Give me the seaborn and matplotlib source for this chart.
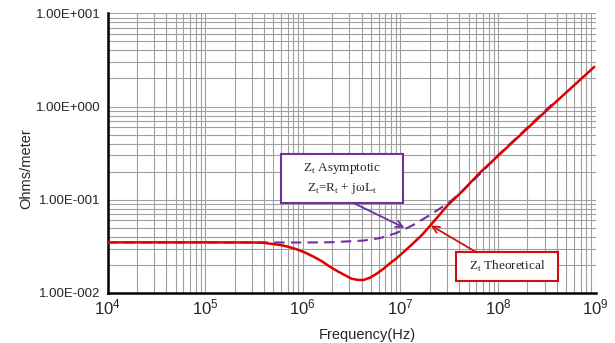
import numpy as np
import pandas as pd
import matplotlib
matplotlib.use("Agg")
import matplotlib.pyplot as plt
from matplotlib.patches import Rectangle
from matplotlib.ticker import LogLocator, FixedLocator, FixedFormatter
import seaborn as sns

# values (frequency in Hz, impedance in ohms/meter)
freq_theo = [1e4, 1e5, 3.16e5, 3.9e5, 5.9e5, 7.1e5, 8.7e5, 1.06e6, 1.29e6, 1.57e6,
             1.9e6, 2.32e6, 2.8e6, 3.18e6, 3.7e6, 4.2e6, 4.9e6, 5.7e6, 6.8e6, 7.8e6,
             9.1e6, 1.07e7, 1.35e7, 1.66e7, 2.01e7, 2.45e7, 3.0e7, 4.09e7, 6.55e7, 1e8,
             3.16e8, 9.66e8]
z_theo = [0.0349, 0.0349, 0.0348, 0.0346, 0.0327, 0.0313, 0.0294, 0.0271, 0.0245, 0.0219,
          0.0191, 0.0169, 0.0152, 0.0142, 0.0138, 0.0138, 0.0146, 0.0161, 0.0184, 0.0208,
          0.0235, 0.0273, 0.0341, 0.0419, 0.0525, 0.0668, 0.0860, 0.117, 0.196, 0.296,
          0.914, 2.66]

freq_asym = [1e4, 1e5, 1e6, 1.9e6, 4.2e6, 6.2e6, 9.1e6, 1.12e7, 1.35e7, 2.01e7, 3.23e7,
             4.42e7, 6.55e7, 1e8, 3.56e8]
z_asym = [0.0349, 0.0349, 0.0348, 0.0350, 0.0365, 0.0388, 0.0440, 0.0487, 0.0536, 0.0686,
          0.0953, 0.127, 0.190, 0.30, 1.053]

ytick_vals = [1e-2, 1e-1, 1e0, 1e1]
ytick_labels = ["1.00E-002", "1.00E-001", "1.00E+000", "1.00E+001"]
xtick_vals = [1e4, 1e5, 1e6, 1e7, 1e8, 1e9]
xtick_labels = [r"$10^{4}$", r"$10^{5}$", r"$10^{6}$", r"$10^{7}$", r"$10^{8}$", r"$10^{9}$"]

df_theo = pd.DataFrame({"f": freq_theo, "z": z_theo})
df_asym = pd.DataFrame({"f": freq_asym, "z": z_asym})

sns.set_style("white")
plt.rcParams["font.family"] = ["Liberation Sans", "DejaVu Sans"]
plt.rcParams["mathtext.fontset"] = "custom"
plt.rcParams["mathtext.rm"] = "Liberation Sans"
plt.rcParams["mathtext.it"] = "Liberation Sans"

fig = plt.figure(figsize=(6.15, 3.43), dpi=100)
ax = fig.add_axes([0.1748, 0.1458, 0.9686 - 0.1748, 0.9612 - 0.1458])

ax.set_xscale("log")
ax.set_yscale("log")

sns.lineplot(data=df_asym, x="f", y="z", ax=ax, color="#7030A0", lw=1.5,
             dashes=False, linestyle=(0, (5, 3)), zorder=3)
sns.lineplot(data=df_theo, x="f", y="z", ax=ax, color="#E00000", lw=1.8, zorder=4)

ax.set_xlim(1e4, 1e9)
ax.set_ylim(1e-2, 1e1)

ax.xaxis.set_major_locator(FixedLocator(xtick_vals))
ax.xaxis.set_major_formatter(FixedFormatter(xtick_labels))
ax.yaxis.set_major_locator(FixedLocator(ytick_vals))
ax.yaxis.set_major_formatter(FixedFormatter(ytick_labels))
ax.xaxis.set_minor_locator(LogLocator(base=10, subs=np.arange(2, 10), numticks=20))
ax.yaxis.set_minor_locator(LogLocator(base=10, subs=np.arange(2, 10), numticks=20))
ax.xaxis.set_minor_formatter(plt.NullFormatter())
ax.yaxis.set_minor_formatter(plt.NullFormatter())

ax.grid(True, which="both", color="#a0a0a0", lw=0.8)
ax.set_axisbelow(True)
ax.tick_params(which="both", length=0)
ax.tick_params(axis="x", labelsize=12, pad=3)
ax.tick_params(axis="y", labelsize=9.5, pad=5)

for s in ["top", "right"]:
    ax.spines[s].set_visible(False)
for s in ["left", "bottom"]:
    ax.spines[s].set_color("black")
    ax.spines[s].set_linewidth(1.8)

ax.set_xlabel("Frequency(Hz)", fontsize=10.5)
ax.set_ylabel("Ohms/meter", fontsize=10.5)
ax.xaxis.set_label_coords(0.5315, -0.124)
ax.yaxis.set_label_coords(-0.153, 0.446)

serif = ["Liberation Serif", "DejaVu Serif"]

# annotation boxes (axes fraction)
ax.add_patch(Rectangle((0.3548, 0.3225), 0.2499, 0.174, transform=ax.transAxes,
                       fc="white", ec="#7030A0", lw=1.5, zorder=5))
ax.text(0.3548 + 0.2499 / 2, 0.3225 + 0.174 / 2,
        "Z$_\\mathregular{t}$ Asymptotic\nZ$_\\mathregular{t}$=R$_\\mathregular{t}$ + jωL$_\\mathregular{t}$",
        transform=ax.transAxes, ha="center", va="center", fontsize=9.5,
        family=serif, linespacing=1.5, zorder=6)
ax.annotate("", xy=(1.1e7, 0.050), xycoords="data",
            xytext=(0.503, 0.3225), textcoords="axes fraction",
            arrowprops=dict(arrowstyle="->", color="#7030A0", lw=1.3,
                            shrinkA=0, shrinkB=0, mutation_scale=12),
            zorder=6)

ax.add_patch(Rectangle((0.7138, 0.0429), 0.2083, 0.1025, transform=ax.transAxes,
                       fc="white", ec="#D01010", lw=1.5, zorder=5))
ax.text(0.7138 + 0.2083 / 2, 0.0429 + 0.1025 / 2, "Z$_\\mathregular{t}$ Theoretical",
        transform=ax.transAxes, ha="center", va="center", fontsize=9.5,
        family=serif, zorder=6)
ax.annotate("", xy=(2.05e7, 0.053), xycoords="data",
            xytext=(0.756, 0.1454), textcoords="axes fraction",
            arrowprops=dict(arrowstyle="->", color="#D01010", lw=1.3,
                            shrinkA=0, shrinkB=0, mutation_scale=12),
            zorder=6)

fig.savefig("out.png", dpi=100)
